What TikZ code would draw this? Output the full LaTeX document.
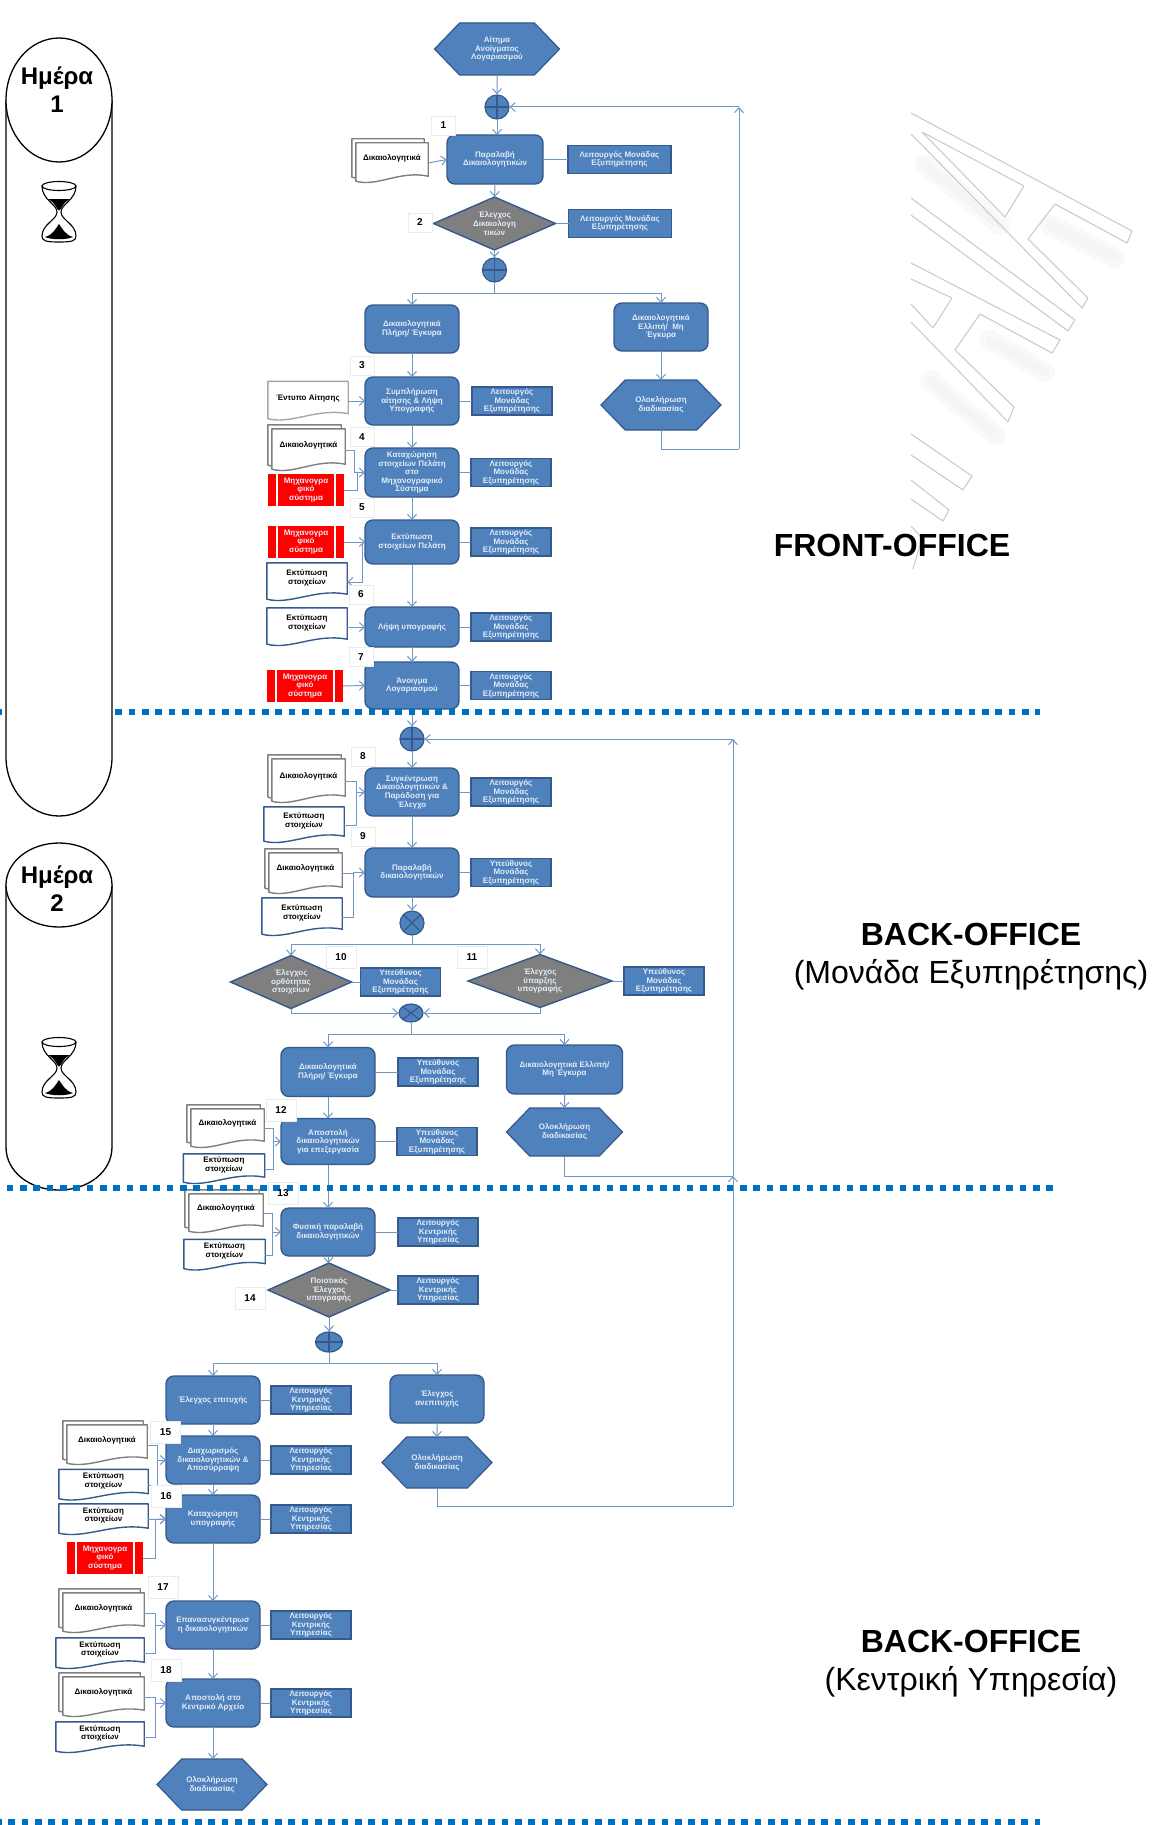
\documentclass[tikz,border=0pt]{standalone}
\usepackage{fontspec}
\setmainfont{Liberation Sans}
\usetikzlibrary{positioning,calc,arrows.meta,shapes.geometric,shapes.symbols}

\definecolor{bluemain}{HTML}{4F81BD}
\definecolor{bluedark}{HTML}{34598C}
\definecolor{bluewire}{HTML}{7097C6}
\definecolor{bluedots}{HTML}{0070C0}
\definecolor{greycheck}{HTML}{7F7F7F}
\definecolor{paletext}{HTML}{E4ECF5}

\newcommand{\wavesheet}[2]{%
  \path[fill=white, draw=#2, line width=1.4pt, line join=round] (#1.north west) -- (#1.north east) -- ($(#1.south east)+(0,-7)$)
    .. controls ($(#1.south west)!0.6!(#1.south east)+(0,-13)$) and ($(#1.south west)!0.3!(#1.south east)+(0,4)$) .. ($(#1.south west)+(0,-2)$) -- cycle;}
\newcommand{\printsheet}[5]{%
  \node[sheet, minimum width=#3pt, minimum height=#4pt] (#1) at (#2) {};
  \wavesheet{#1}{bluedark}
  \node[sheettext] (#1t) at ($(#1)+(0,-4)$) {#5};}
\newcommand{\stacksheet}[5]{%
  \node[sheet, minimum width=#3pt, minimum height=#4pt] (#1b) at ($(#2)+(-4,-4)$) {};
  \wavesheet{#1b}{greycheck}
  \node[sheet, minimum width=#3pt, minimum height=#4pt] (#1) at (#2) {};
  \wavesheet{#1}{greycheck}
  \node[sheettext] (#1t) at ($(#1)+(0,-5)$) {#5};}

\begin{document}
\begin{tikzpicture}[
  x=1pt, y=-1pt,
  >={Straight Barb[length=5pt,width=9pt]},
  box/.style={draw=bluedark, fill=bluemain, line width=1.4pt, rounded corners=8pt, align=center, text=paletext, inner sep=0pt, outer sep=0pt,
    font=\fontsize{8}{8.6}\selectfont\bfseries, minimum width=94pt, minimum height=48pt},
  role/.style={draw=bluedark, fill=bluemain, line width=1.2pt, align=center, text=paletext, inner sep=0pt, outer sep=0pt,
    font=\fontsize{8}{8.6}\selectfont\bfseries, minimum width=80pt, minimum height=28pt},
  check/.style={diamond, aspect=2.3, draw=bluedark, fill=greycheck, line width=1.4pt, align=center, text=paletext, inner sep=0pt, outer sep=0pt,
    font=\fontsize{8}{8.6}\selectfont\bfseries, minimum width=122pt, minimum height=53pt},
  hexend/.style={signal, signal to=east and west, signal pointer angle=92, draw=bluedark, fill=bluemain, line width=1.2pt, outer sep=0pt,
    align=center, text=paletext, inner sep=0pt, font=\fontsize{8}{8.6}\selectfont\bfseries, minimum width=110pt, minimum height=51pt},
  plusgate/.style={ellipse, draw=bluedark, fill=bluemain, line width=1.2pt, inner sep=0pt, minimum width=24pt, minimum height=24pt,
    path picture={\draw[bluedark, line width=1.2pt] (path picture bounding box.north) -- (path picture bounding box.south)
      (path picture bounding box.west) -- (path picture bounding box.east);}},
  xgate/.style={ellipse, draw=bluedark, fill=bluemain, line width=1.2pt, inner sep=0pt, minimum width=24pt, minimum height=24pt,
    path picture={\draw[bluedark, line width=1.2pt] (path picture bounding box.north west) -- (path picture bounding box.south east)
      (path picture bounding box.north east) -- (path picture bounding box.south west);}},
  system/.style={fill=red, align=center, text=paletext, inner sep=0pt, font=\fontsize{8}{8.6}\selectfont\bfseries,
    minimum width=76pt, minimum height=32pt,
    path picture={\draw[white, line width=2pt] ([xshift=8.6pt]path picture bounding box.north west) -- ([xshift=8.6pt]path picture bounding box.south west)
      ([xshift=-8.6pt]path picture bounding box.north east) -- ([xshift=-8.6pt]path picture bounding box.south east);}},
  sheet/.style={inner sep=0pt},
  sheettext/.style={align=center, inner sep=0pt, font=\fontsize{8}{8.6}\selectfont\bfseries},
  num/.style={draw=black!8, fill=white, inner sep=0pt, font=\fontsize{10}{10}\selectfont\bfseries, minimum width=24pt, minimum height=19pt},
  bignum/.style={num, minimum width=30pt, minimum height=22pt},
  flow/.style={->, draw=bluewire, line width=1pt},
  link/.style={draw=bluewire, line width=1pt},
  divider/.style={draw=bluedots, line width=6.5pt, dash pattern=on 6.67pt off 6.66pt},
  watermark/.style={draw=black!20, line width=1.1pt, line join=round},
  watershade/.style={draw=black!2.5, line width=20pt, line cap=round},
  watercore/.style={draw=black!4, line width=9pt, line cap=round},
  dayhead/.style={ellipse, draw, fill=white, line width=1.3pt, inner sep=0pt, minimum width=106pt},
  daytext/.style={align=center, inner sep=0pt, font=\fontsize{24}{28}\selectfont\bfseries},
  office/.style={align=center, inner sep=0pt, font=\fontsize{32}{38}\selectfont},
  hourglass/.pic={
    \draw[line width=1.1pt, fill=white] (-17,-26) .. controls (-17,-12) and (-2,-8) .. (-2,0) .. controls (-2,8) and (-17,12) .. (-17,24)
      .. controls (-17,29) and (-13,30) .. (0,30) .. controls (13,30) and (17,29) .. (17,24)
      .. controls (17,12) and (2,8) .. (2,0) .. controls (2,-8) and (17,-12) .. (17,-26);
    \draw[line width=1.1pt] (0,-26) ellipse [x radius=17pt, y radius=4.5pt];
    \fill (-11,-13) -- (11,-13) .. controls (6,-10) .. (1,-2) -- (-1,-2) .. controls (-6,-10) .. cycle;
    \fill (-14,25) .. controls (-6,23) and (-3,16) .. (0,12) .. controls (3,16) and (6,23) .. (14,25) .. controls (7,28) and (-7,28) .. cycle;
  }
]
\useasboundingbox (0,0) rectangle (1155,1825);
\fill[white] (0,0) rectangle (1155,1825);

% watermark
\draw[watershade] (925,165) -- (1000,225);
\draw[watershade] (1050,225) -- (1115,258);
\draw[watershade] (990,340) -- (1045,372);
\draw[watershade] (930,380) -- (995,435);
\draw[watercore] (925,165) -- (1000,225);
\draw[watercore] (1050,225) -- (1115,258);
\draw[watercore] (990,340) -- (1045,372);
\draw[watercore] (930,380) -- (995,435);
\draw[watermark] (911,113) -- (1132,231) -- (1127,243) -- (1055,204) -- (1028,239) -- (1088,298) -- (1082,308) -- (911,134);
\draw[watermark] (922,132) -- (1024,186) -- (1005,217) -- cycle;
\draw[watermark] (911,198) -- (1075,320) -- (1068,331) -- (911,215);
\draw[watermark] (911,263) -- (1060,340) -- (1052,353) -- (980,314) -- (955,350) -- (1014,407) -- (1008,422) -- (911,322);
\draw[watermark] (911,279) -- (952,298) -- (933,328) -- (911,304);
\draw[watermark] (911,434) -- (972,476) -- (963,490) -- (911,455);
\draw[watermark] (911,480) -- (949,510) -- (943,521) -- (911,499);
\draw[watermark] (911,526) -- (922,538) -- (913,569);

% front-office
\node[hexend, minimum width=125pt, minimum height=52pt] (start) at (497,49) {Αίτημα\\Ανοίγματος\\Λογαριασμού};
\node[plusgate] (c1) at (497,107) {};
\node[box, minimum width=96pt, minimum height=49pt] (p1) at (495,159.5) {Παραλαβή\\Δικαιολογητικών};
\node[role, minimum width=103pt, right=25pt of p1] (r1) {Λειτουργός Μονάδας\\Εξυπηρέτησης};
\stacksheet{d1}{392,163}{72}{40}{Δικαιολογητικά}
\node[check] (g2) at (494.5,223.5) {Έλεγχος\\Δικαιολογη\\τικών};
\node[role, minimum width=103pt, right=13pt of g2] (r2) {Λειτουργός Μονάδας\\Εξυπηρέτησης};
\node[plusgate] (c2) at (494.5,270) {};
\coordinate (b1) at (494.5,293);
\node[box] (q1) at (412,329) {Δικαιολογητικά\\Πλήρη/ Έγκυρα};
\node[box] (q2) at (661,327) {Δικαιολογητικά\\Ελλιπή/ \ Μη\\Έγκυρα};
\node[hexend, minimum width=120pt, minimum height=50pt] (e1) at (661,405) {Ολοκλήρωση\\διαδικασίας};
\coordinate (l1) at (739,449);
\coordinate (l1a) at (739,107);

\node[box, below=24pt of q1] (q3) {Συμπλήρωση\\αίτησης \& Λήψη\\Υπογραφής};
\node[role, right=13pt of q3] (r3) {Λειτουργός\\Μονάδας\\Εξυπηρέτησης};
\node[sheet, minimum width=80pt, minimum height=39pt] (f3) at (308,401) {};
\wavesheet{f3}{black!35}
\node[sheettext] (f3t) at ($(f3)+(0,-3)$) {Έντυπο Αίτησης};
\node[box, below=23pt of q3, minimum height=49pt] (q4) {Καταχώρηση\\στοιχείων Πελάτη\\στο\\Μηχανογραφικό\\Σύστημα};
\node[role, right=12pt of q4] (r4) {Λειτουργός\\Μονάδας\\Εξυπηρέτησης};
\stacksheet{d4}{308.5,450}{73}{42}{Δικαιολογητικά}
\node[system] (s4) at (306,490) {Μηχανογρα\\φικό\\σύστημα};
\node[box, below=23pt of q4, minimum height=44pt] (q5) {Εκτύπωση\\στοιχείων Πελάτη};
\node[role, right=12pt of q5] (r5) {Λειτουργός\\Μονάδας\\Εξυπηρέτησης};
\node[system] (s5) at (306,542) {Μηχανογρα\\φικό\\σύστημα};
\printsheet{t5}{307,582}{80}{38}{Εκτύπωση\\στοιχείων}
\node[box, below=43pt of q5, minimum height=40pt] (q6) {Λήψη υπογραφής};
\node[role, right=12pt of q6] (r6) {Λειτουργός\\Μονάδας\\Εξυπηρέτησης};
\printsheet{t6}{307,627}{80}{38}{Εκτύπωση\\στοιχείων}
\node[box, below=15pt of q6, minimum height=47pt] (q7) {Άνοιγμα\\Λογαριασμού};
\node[role, right=12pt of q7] (r7) {Λειτουργός\\Μονάδας\\Εξυπηρέτησης};
\node[system] (s7) at (305,686) {Μηχανογρα\\φικό\\σύστημα};

\draw[flow] (start) -- (c1);
\draw[flow] (c1) -- (c1 |- p1.north);
\draw[flow] (d1.east) -- (p1.west);
\draw[link] (p1) -- (r1);
\draw[flow] (p1) -- (g2);
\draw[link] (g2) -- (r2);
\draw[flow] (g2) -- (c2);
\draw[link] (c2) -- (b1);
\draw[flow] (b1) -| (q1);
\draw[flow] (b1) -| (q2);
\draw[flow] (q2) -- (e1);
\draw[link] (e1) |- (l1);
\draw[flow] (l1) -- (l1a);
\draw[flow] (l1a) -- (c1);
\draw[flow] (q1) -- (q3);
\draw[link] (q3) -- (r3);
\draw[flow] (f3.east) -- (q3.west);
\draw[flow] (q3) -- (q4);
\draw[link] (q4) -- (r4);
\draw[link] (d4.east) -- ++(9,0) |- (q4.west);
\draw[flow] (s4.east) -- ++(13,0) |- (q4.west);
\draw[flow] (q4) -- (q5);
\draw[link] (q5) -- (r5);
\draw[flow] (s5.east) -- (q5.west);
\draw[flow] (q5.west) -- ++(-3,0) |- (t5.east);
\draw[flow] (q5) -- (q6);
\draw[link] (q6) -- (r6);
\draw[flow] (t6.east) -- (q6.west);
\draw[flow] (q6) -- (q7);
\draw[link] (q7) -- (r7);
\draw[flow] (s7.east) -- (q7.west);

% back-office, unit
\node[plusgate] (c3) at (412,739) {};
\node[box] (q8) at (412,792) {Συγκέντρωση\\Δικαιολογητικών \&\\Παράδοση για\\Έλεγχο};
\node[role, right=12pt of q8] (r8) {Λειτουργός\\Μονάδας\\Εξυπηρέτησης};
\stacksheet{d8}{308.5,781}{73}{44}{Δικαιολογητικά}
\printsheet{t8}{304,825}{80}{36}{Εκτύπωση\\στοιχείων}
\node[box, below=32pt of q8, minimum height=49pt] (q9) {Παραλαβή\\δικαιολογητικών};
\node[role, right=12pt of q9] (r9) {Υπεύθυνος\\Μονάδας\\Εξυπηρέτησης};
\stacksheet{d9}{305.5,873.5}{73}{41}{Δικαιολογητικά}
\printsheet{t9}{302,917}{80}{38}{Εκτύπωση\\στοιχείων}
\node[xgate] (x3) at (412,923) {};
\coordinate (b2) at (412,944);
\node[check, minimum width=121pt] (g10) at (291,982) {Έλεγχος\\ορθότητας\\στοιχείων};
\node[role, right=9pt of g10] (r10) {Υπεύθυνος\\Μονάδας\\Εξυπηρέτησης};
\node[check, minimum width=144pt] (g11) at (540,981) {Έλεγχος\\ύπαρξης\\υπογραφής};
\node[role, right=12pt of g11] (r11) {Υπεύθυνος\\Μονάδας\\Εξυπηρέτησης};
\node[xgate, minimum height=18pt] (x4) at (411,1013) {};
\coordinate (b3) at (411,1034);
\node[box, minimum height=49pt] (q10) at (328,1072) {Δικαιολογητικά\\Πλήρη/ Έγκυρα};
\node[role, right=23pt of q10] (r10b) {Υπεύθυνος\\Μονάδας\\Εξυπηρέτησης};
\node[box, minimum width=116pt, minimum height=49pt] (q11) at (564.5,1069.5) {Δικαιολογητικά Ελλιπή/\\Μη Έγκυρα};
\node[hexend, minimum width=116pt, minimum height=48pt] (e2) at (564.5,1132) {Ολοκλήρωση\\διαδικασίας};
\node[box, below=22pt of q10, minimum height=46pt] (q12) {Αποστολή\\δικαιολογητικών\\για επεξεργασία};
\node[role, right=22pt of q12] (r12) {Υπεύθυνος\\Μονάδας\\Εξυπηρέτησης};
\stacksheet{d12}{227.5,1128.5}{73}{39}{Δικαιολογητικά}
\printsheet{t12}{224,1169}{81}{30}{Εκτύπωση\\στοιχείων}
\coordinate (l2) at (733,1176);
\coordinate (l2a) at (733,739);

\draw[flow] (q7) -- (c3);
\draw[flow] (c3) -- (q8);
\draw[link] (q8) -- (r8);
\draw[link] (d8.east) -- ++(11,0) |- (q8.west);
\draw[flow] (t8.east) -- ++(12,0) |- (q8.west);
\draw[flow] (q8) -- (q9);
\draw[link] (q9) -- (r9);
\draw[link] (d9.east) -- ++(11,0) |- (q9.west);
\draw[flow] (t9.east) -- ++(11,0) |- (q9.west);
\draw[flow] (q9) -- (x3);
\draw[link] (x3) -- (b2);
\draw[flow] (b2) -| (g10);
\draw[flow] (b2) -| (g11);
\draw[link] (g10) -- (r10);
\draw[link] (g11) -- (r11);
\draw[flow] (g10.south) |- (x4.west);
\draw[flow] (g11.south) |- (x4.east);
\draw[link] (x4) -- (b3);
\draw[flow] (b3) -| (q10);
\draw[flow] (b3) -| (q11);
\draw[link] (q10) -- (r10b);
\draw[flow] (q11) -- (e2);
\draw[link] (e2) |- (l2);
\draw[flow] (l2) -- (l2a);
\draw[flow] (l2a) -- (c3);
\draw[flow] (q10) -- (q12);
\draw[link] (q12) -- (r12);
\draw[link] (d12.east) -- ++(9,0) |- (q12.west);
\draw[flow] (t12.east) -- ++(9,0) |- (q12.west);

% back-office, central
\node[box] (q13) at (328,1232) {Φυσική παραλαβή\\δικαιολογητικών};
\node[role, right=23pt of q13] (r13) {Λειτουργός\\Κεντρικής\\Υπηρεσίας};
\stacksheet{d13}{226,1213.5}{74}{39}{Δικαιολογητικά}
\printsheet{t13}{224.5,1255}{81}{31}{Εκτύπωση\\στοιχείων}
\node[check, minimum height=54pt] (g14) at (329,1290) {Ποιοτικός\\Έλεγχος\\υπογραφής};
\node[role, right=8pt of g14] (r14) {Λειτουργός\\Κεντρικής\\Υπηρεσίας};
\node[plusgate, minimum width=27pt, minimum height=20pt] (c4) at (329,1342) {};
\coordinate (b4) at (329,1363);
\node[box] (q14) at (213,1400) {Έλεγχος επιτυχής};
\node[role, right=11pt of q14] (r14b) {Λειτουργός\\Κεντρικής\\Υπηρεσίας};
\node[box] (q14b) at (437,1399) {Έλεγχος\\ανεπιτυχής};
\node[hexend] (e3) at (437,1462.5) {Ολοκλήρωση\\διαδικασίας};
\node[box, below=12pt of q14] (q15) {Διαχωρισμός\\δικαιολογητικών \&\\Αποσύρραψη};
\node[role, right=11pt of q15] (r15) {Λειτουργός\\Κεντρικής\\Υπηρεσίας};
\stacksheet{d15}{107,1445}{80}{40}{Δικαιολογητικά}
\printsheet{t15}{103.5,1485}{89}{31}{Εκτύπωση\\στοιχείων}
\node[box, below=11pt of q15] (q16) {Καταχώρηση\\υπογραφής};
\node[role, right=11pt of q16] (r16) {Λειτουργός\\Κεντρικής\\Υπηρεσίας};
\printsheet{t16}{103.5,1519.5}{89}{31}{Εκτύπωση\\στοιχείων}
\node[system] (s16) at (105,1558) {Μηχανογρα\\φικό\\σύστημα};
\node[box, below=58pt of q16] (q17) {Επανασυγκέντρωσ\\η δικαιολογητικών};
\node[role, right=11pt of q17] (r17) {Λειτουργός\\Κεντρικής\\Υπηρεσίας};
\stacksheet{d17}{103.5,1613}{81}{40}{Δικαιολογητικά}
\printsheet{t17}{100,1653.5}{88}{31}{Εκτύπωση\\στοιχείων}
\node[box, below=30pt of q17] (q18) {Αποστολή στο\\Κεντρικό Αρχείο};
\node[role, right=11pt of q18] (r18) {Λειτουργός\\Κεντρικής\\Υπηρεσίας};
\stacksheet{d18}{103.5,1697}{81}{40}{Δικαιολογητικά}
\printsheet{t18}{100,1737.5}{88}{31}{Εκτύπωση\\στοιχείων}
\node[hexend] (e4) at (212,1784.5) {Ολοκλήρωση\\διαδικασίας};
\coordinate (l3) at (733,1506);

\draw[flow] (q12) -- (q13);
\draw[link] (q13) -- (r13);
\draw[link] (d13.east) -- ++(9,0) |- (q13.west);
\draw[flow] (t13.east) -- ++(7,0) |- (q13.west);
\draw[flow] (q13) -- (g14);
\draw[link] (g14) -- (r14);
\draw[flow] (g14) -- (c4);
\draw[link] (c4) -- (b4);
\draw[flow] (b4) -| (q14);
\draw[flow] (b4) -| (q14b);
\draw[link] (q14) -- (r14b);
\draw[flow] (q14b) -- (e3);
\draw[link] (e3) |- (l3);
\draw[flow] (l3) -- (l2);
\draw[flow] (q14) -- (q15);
\draw[link] (q15) -- (r15);
\draw[link] (d15.east) -- ++(10,0) |- (q15.west);
\draw[flow] (t15.east) -- ++(9,0) |- (q15.west);
\draw[flow] (q15) -- (q16);
\draw[link] (q16) -- (r16);
\draw[flow] (t16.east) -- (q16.west);
\draw[flow] (s16.east) -- ++(12,0) |- (q16.west);
\draw[flow] (q16) -- (q17);
\draw[link] (q17) -- (r17);
\draw[link] (d17.east) -- ++(11,0) |- (q17.west);
\draw[flow] (t17.east) -- ++(11,0) |- (q17.west);
\draw[flow] (q17) -- (q18);
\draw[link] (q18) -- (r18);
\draw[link] (d18.east) -- ++(11,0) |- (q18.west);
\draw[flow] (t18.east) -- ++(11,0) |- (q18.west);
\draw[flow] (q18) -- (q18 |- e4.north);

% step numbers
\node[num] (n1) at (443.5,125.5) {1};
\node[num] (n2) at (420,222.5) {2};
\node[num] (n3) at (362,365.5) {3};
\node[num] (n4) at (362,437) {4};
\node[num] (n5) at (362,507.5) {5};
\node[num] (n6) at (361,594.5) {6};
\node[num] (n7) at (361,657) {7};
\node[num] (n8) at (363,756.5) {8};
\node[num] (n9) at (363,836.5) {9};
\node[bignum] (n10) at (341,957) {10};
\node[bignum] (n11) at (472,957) {11};
\node[bignum] (n12) at (281,1110) {12};
\node[bignum] (n14) at (250,1298) {14};
\node[bignum] (n15) at (165.5,1432.5) {15};
\node[bignum] (n16) at (166,1496.5) {16};
\node[bignum] (n17) at (163,1587.5) {17};
\node[bignum] (n18) at (166,1670) {18};

% day cylinders
\coordinate (dv1a) at (-4.5,712);
\coordinate (dv1b) at (1040,712);
\draw[divider] (dv1a) -- (dv1b);
\draw[fill=white, line width=1.3pt] (6,100) -- (6,757) .. controls (6,790) and (30,816) .. (59,816) .. controls (88,816) and (112,790) .. (112,757) -- (112,100);
\node[dayhead, minimum height=124pt] (day1) at (59,100) {};
\node[daytext] (day1t) at (57,90) {Ημέρα\\1};
\pic (glass1) at (59,212) {hourglass};
\draw[fill=white, line width=1.3pt] (6,885) -- (6,1147) .. controls (6,1172) and (30,1190) .. (59,1190) .. controls (88,1190) and (112,1172) .. (112,1147) -- (112,885);
\node[dayhead, minimum height=84pt] (day2) at (59,885) {};
\node[daytext] (day2t) at (57,889) {Ημέρα\\2};
\pic (glass2) at (59,1068) {hourglass};

\coordinate (dv2a) at (6.7,1188);
\coordinate (dv2b) at (1053,1188);
\draw[divider] (dv2a) -- (dv2b);
\coordinate (dv3a) at (-5,1822);
\coordinate (dv3b) at (1040,1822);
\draw[divider] (dv3a) -- (dv3b);
\node[num, bignum, draw=black!8, fill=none] (n13) at (283,1193) {13};

% section titles
\node[office, font=\fontsize{32}{38}\selectfont\bfseries] (front) at (892,545) {FRONT-OFFICE};
\node[office] (unit) at (971,957) {{\bfseries BACK-OFFICE}\\(Μονάδα Εξυπηρέτησης)};
\node[office] (central) at (971,1664) {{\bfseries BACK-OFFICE}\\(Κεντρική Υπηρεσία)};
\end{tikzpicture}
\end{document}
